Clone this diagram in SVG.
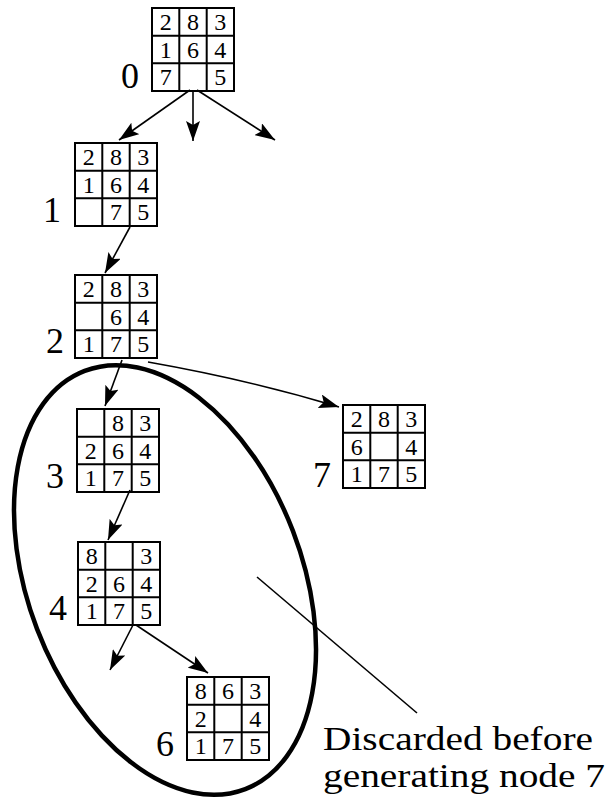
<svg xmlns="http://www.w3.org/2000/svg" width="611" height="805" viewBox="0 0 611 805">
<style>
.g{fill:none;stroke:#000;stroke-width:2}
.d{font-family:'Liberation Serif','Times New Roman',Times,serif;font-size:24px;text-anchor:middle;fill:#000}
.lb{font-family:'Liberation Serif','Times New Roman',Times,serif;font-size:36px;text-anchor:middle;fill:#000}
.c{fill:none;stroke:#000;stroke-width:1.6}
.tx{font-family:'Liberation Serif','Times New Roman',Times,serif;font-size:34px;fill:#000}
</style>
<defs>
<marker id="ah" markerUnits="userSpaceOnUse" markerWidth="22" markerHeight="14" refX="20" refY="7" orient="auto">
<path d="M0,0 L20,7 L0,14 L4,7 z" fill="#000"/>
</marker>
<g id="grid">
<rect class="g" x="0" y="0" width="82" height="83"/>
<path class="g" d="M27.3,0V83M54.7,0V83M0,27.7H82M0,55.3H82"/>
</g>
</defs>
<rect width="611" height="805" fill="#fff"/>

<g id="connectors">
<line class="c" x1="190" y1="90" x2="119" y2="140" marker-end="url(#ah)"/>
<line class="c" x1="193" y1="90" x2="193" y2="141" marker-end="url(#ah)"/>
<line class="c" x1="197" y1="90" x2="275" y2="140" marker-end="url(#ah)"/>
<line class="c" x1="130" y1="227" x2="105" y2="273" marker-end="url(#ah)"/>
<line class="c" x1="122" y1="360" x2="105" y2="406" marker-end="url(#ah)"/>
<path class="c" d="M148,362 Q250,380 339,407" marker-end="url(#ah)"/>
<line class="c" x1="130" y1="490" x2="108" y2="540" marker-end="url(#ah)"/>
<line class="c" x1="133" y1="625" x2="110" y2="670" marker-end="url(#ah)"/>
<line class="c" x1="136" y1="625" x2="208" y2="673" marker-end="url(#ah)"/>
<line class="c" x1="257" y1="577" x2="417" y2="713"/>
<ellipse cx="165" cy="580" rx="224" ry="137" transform="rotate(69 165 580)" fill="none" stroke="#000" stroke-width="4.5"/>
</g>

<g id="node0" transform="translate(152,8)">
<use href="#grid"/>
<text class="d" x="13.7" y="22">2</text><text class="d" x="41" y="22">8</text><text class="d" x="68.3" y="22">3</text>
<text class="d" x="13.7" y="50">1</text><text class="d" x="41" y="50">6</text><text class="d" x="68.3" y="50">4</text>
<text class="d" x="13.7" y="77">7</text><text class="d" x="68.3" y="77">5</text>
<text class="lb" x="-22" y="80">0</text>
</g>

<g id="node1" transform="translate(75,143)">
<use href="#grid"/>
<text class="d" x="13.7" y="22">2</text><text class="d" x="41" y="22">8</text><text class="d" x="68.3" y="22">3</text>
<text class="d" x="13.7" y="50">1</text><text class="d" x="41" y="50">6</text><text class="d" x="68.3" y="50">4</text>
<text class="d" x="41" y="77">7</text><text class="d" x="68.3" y="77">5</text>
<text class="lb" x="-23" y="79">1</text>
</g>

<g id="node2" transform="translate(75,275)">
<use href="#grid"/>
<text class="d" x="13.7" y="22">2</text><text class="d" x="41" y="22">8</text><text class="d" x="68.3" y="22">3</text>
<text class="d" x="41" y="50">6</text><text class="d" x="68.3" y="50">4</text>
<text class="d" x="13.7" y="77">1</text><text class="d" x="41" y="77">7</text><text class="d" x="68.3" y="77">5</text>
<text class="lb" x="-20" y="78">2</text>
</g>

<g id="node3" transform="translate(77,409)">
<use href="#grid"/>
<text class="d" x="41" y="22">8</text><text class="d" x="68.3" y="22">3</text>
<text class="d" x="13.7" y="50">2</text><text class="d" x="41" y="50">6</text><text class="d" x="68.3" y="50">4</text>
<text class="d" x="13.7" y="77">1</text><text class="d" x="41" y="77">7</text><text class="d" x="68.3" y="77">5</text>
<text class="lb" x="-22" y="79">3</text>
</g>

<g id="node4" transform="translate(78,542)">
<use href="#grid"/>
<text class="d" x="13.7" y="22">8</text><text class="d" x="68.3" y="22">3</text>
<text class="d" x="13.7" y="50">2</text><text class="d" x="41" y="50">6</text><text class="d" x="68.3" y="50">4</text>
<text class="d" x="13.7" y="77">1</text><text class="d" x="41" y="77">7</text><text class="d" x="68.3" y="77">5</text>
<text class="lb" x="-20" y="78">4</text>
</g>

<g id="node6" transform="translate(187,677)">
<use href="#grid"/>
<text class="d" x="13.7" y="22">8</text><text class="d" x="41" y="22">6</text><text class="d" x="68.3" y="22">3</text>
<text class="d" x="13.7" y="50">2</text><text class="d" x="68.3" y="50">4</text>
<text class="d" x="13.7" y="77">1</text><text class="d" x="41" y="77">7</text><text class="d" x="68.3" y="77">5</text>
<text class="lb" x="-22" y="79">6</text>
</g>

<g id="node7" transform="translate(343,405)">
<use href="#grid"/>
<text class="d" x="13.7" y="22">2</text><text class="d" x="41" y="22">8</text><text class="d" x="68.3" y="22">3</text>
<text class="d" x="13.7" y="50">6</text><text class="d" x="68.3" y="50">4</text>
<text class="d" x="13.7" y="77">1</text><text class="d" x="41" y="77">7</text><text class="d" x="68.3" y="77">5</text>
<text class="lb" x="-21" y="82">7</text>
</g>

<g id="note">
<text class="tx" x="323" y="750" textLength="270" lengthAdjust="spacingAndGlyphs">Discarded before</text>
<text class="tx" x="323" y="787" textLength="282" lengthAdjust="spacingAndGlyphs">generating node 7</text>
</g>
</svg>
